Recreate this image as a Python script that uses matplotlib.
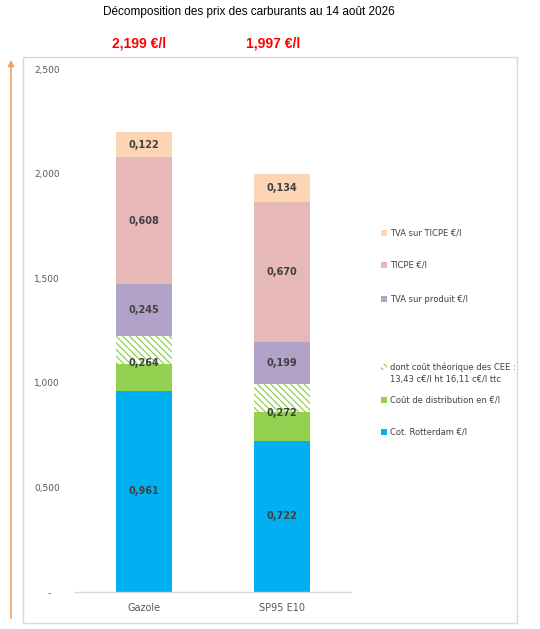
import matplotlib
matplotlib.use("Agg")
import matplotlib.pyplot as plt
from matplotlib.patches import Rectangle, FancyArrowPatch

categories = ["Gazole", "SP95 E10"]
rotterdam = [0.961, 0.722]
distribution = [0.264, 0.272]
cee = [0.1343, 0.1343]
tva_produit = [0.245, 0.199]
ticpe = [0.608, 0.670]
tva_ticpe = [0.122, 0.134]
totals = ["2,199 €/l", "1,997 €/l"]
yticks = [0, 0.5, 1.0, 1.5, 2.0, 2.5]
yticklabels = ["-   ", "0,500", "1,000", "1,500", "2,000", "2,500"]

c_blue = "#00B0F0"
c_green = "#92D050"
c_purple = "#B3A2C7"
c_pink = "#E6B9B8"
c_peach = "#FCD5B5"
txt = "#404040"

plt.rcParams["font.family"] = ["DejaVu Sans"]
plt.rcParams["hatch.linewidth"] = 0.9

fig = plt.figure(figsize=(5.4, 6.29), dpi=100)
W, H = 540, 629

# outer chart border
fig.patches.append(Rectangle((23 / W, 1 - 623 / H), (517 - 23) / W, (623 - 57) / H,
                             transform=fig.transFigure, fill=False,
                             edgecolor="#D9D9D9", linewidth=1.0))

ax = fig.add_axes([75 / W, 1 - 592 / H, 276 / W, (592 - 69) / H])
x = list(range(len(categories)))
bw = 0.4

def fmt(v):
    return f"{v:.3f}".replace(".", ",")

bottoms = [0.0, 0.0]
series = [(rotterdam, c_blue), (distribution, c_green), (tva_produit, c_purple),
          (ticpe, c_pink), (tva_ticpe, c_peach)]
for si, (vals, col) in enumerate(series):
    ax.bar(x, vals, bw, bottom=bottoms, color=col, edgecolor="none", zorder=2)
    if si == 1:
        cee_bottom = [b + v - c for b, v, c in zip(bottoms, vals, cee)]
        ax.bar(x, cee, bw, bottom=cee_bottom, color="white", edgecolor=c_green,
               hatch="\\\\\\\\\\", linewidth=0, zorder=3)
    for i, v in enumerate(vals):
        ax.text(x[i], bottoms[i] + v / 2, fmt(v), ha="center", va="center",
                fontsize=7, fontweight="bold", color=txt, zorder=5)
    bottoms = [b + v for b, v in zip(bottoms, vals)]

ax.set_xlim(-0.5, 1.5)
ax.set_ylim(0, 2.5)
ax.set_yticks(yticks)
ax.set_yticklabels(yticklabels, fontsize=6.5, color="#595959")
ax.set_xticks(x)
ax.set_xticklabels(categories, fontsize=7, color="#595959")
ax.tick_params(axis="y", length=0, pad=11)
ax.tick_params(axis="x", length=0, pad=8)
for s in ["top", "right", "left"]:
    ax.spines[s].set_visible(False)
ax.spines["bottom"].set_color("#D9D9D9")
ax.spines["bottom"].set_linewidth(1.0)

# totals above bars
for i, t in enumerate(totals):
    fig.text([139 / W, 273 / W][i], 1 - 43 / H, t, ha="center", va="center",
             fontsize=10, fontweight="bold", color="#FF0000",
             family=["Liberation Sans", "DejaVu Sans"])

fig.text(249 / W, 1 - 12 / H, "Décomposition des prix des carburants au 14 août 2026",
         ha="center", va="center", fontsize=8.5, color="black",
         family=["Liberation Sans", "DejaVu Sans"])

# legend (manual)
legend_items = [
    (233, 233, c_peach, False, "TVA sur TICPE €/l"),
    (265, 265, c_pink, False, "TICPE €/l"),
    (299, 299, c_purple, False, "TVA sur produit €/l"),
    (367, 373, "white", True, "dont coût théorique des CEE :\n13,43 c€/l ht 16,11 c€/l ttc"),
    (400, 400, c_green, False, "Coût de distribution en €/l"),
    (432, 432, c_blue, False, "Cot. Rotterdam €/l"),
]
for ym, yt, fc, hatched, label in legend_items:
    if not hatched:
        fig.patches.append(Rectangle((381 / W, 1 - (ym + 3) / H), 6 / W, 6 / H,
                                     transform=fig.transFigure, facecolor=fc,
                                     edgecolor="none"))
    else:
        fig.patches.append(Rectangle((381 / W, 1 - (ym + 3) / H), 6 / W, 6 / H,
                                     transform=fig.transFigure, facecolor="white",
                                     edgecolor=c_green, hatch="\\\\\\\\\\", linewidth=0))
    fig.text(390 / W, 1 - yt / H, label, ha="left", va="center",
             fontsize=6, color="#404040", linespacing=1.45)

# orange arrow on the left
arr = FancyArrowPatch((11 / W, 1 - 621 / H), (11 / W, 1 - 57 / H),
                      transform=fig.transFigure, arrowstyle="-|>",
                      mutation_scale=9, color="#F4A460", linewidth=1.2)
fig.patches.append(arr)

fig.savefig("out.png", dpi=100)
